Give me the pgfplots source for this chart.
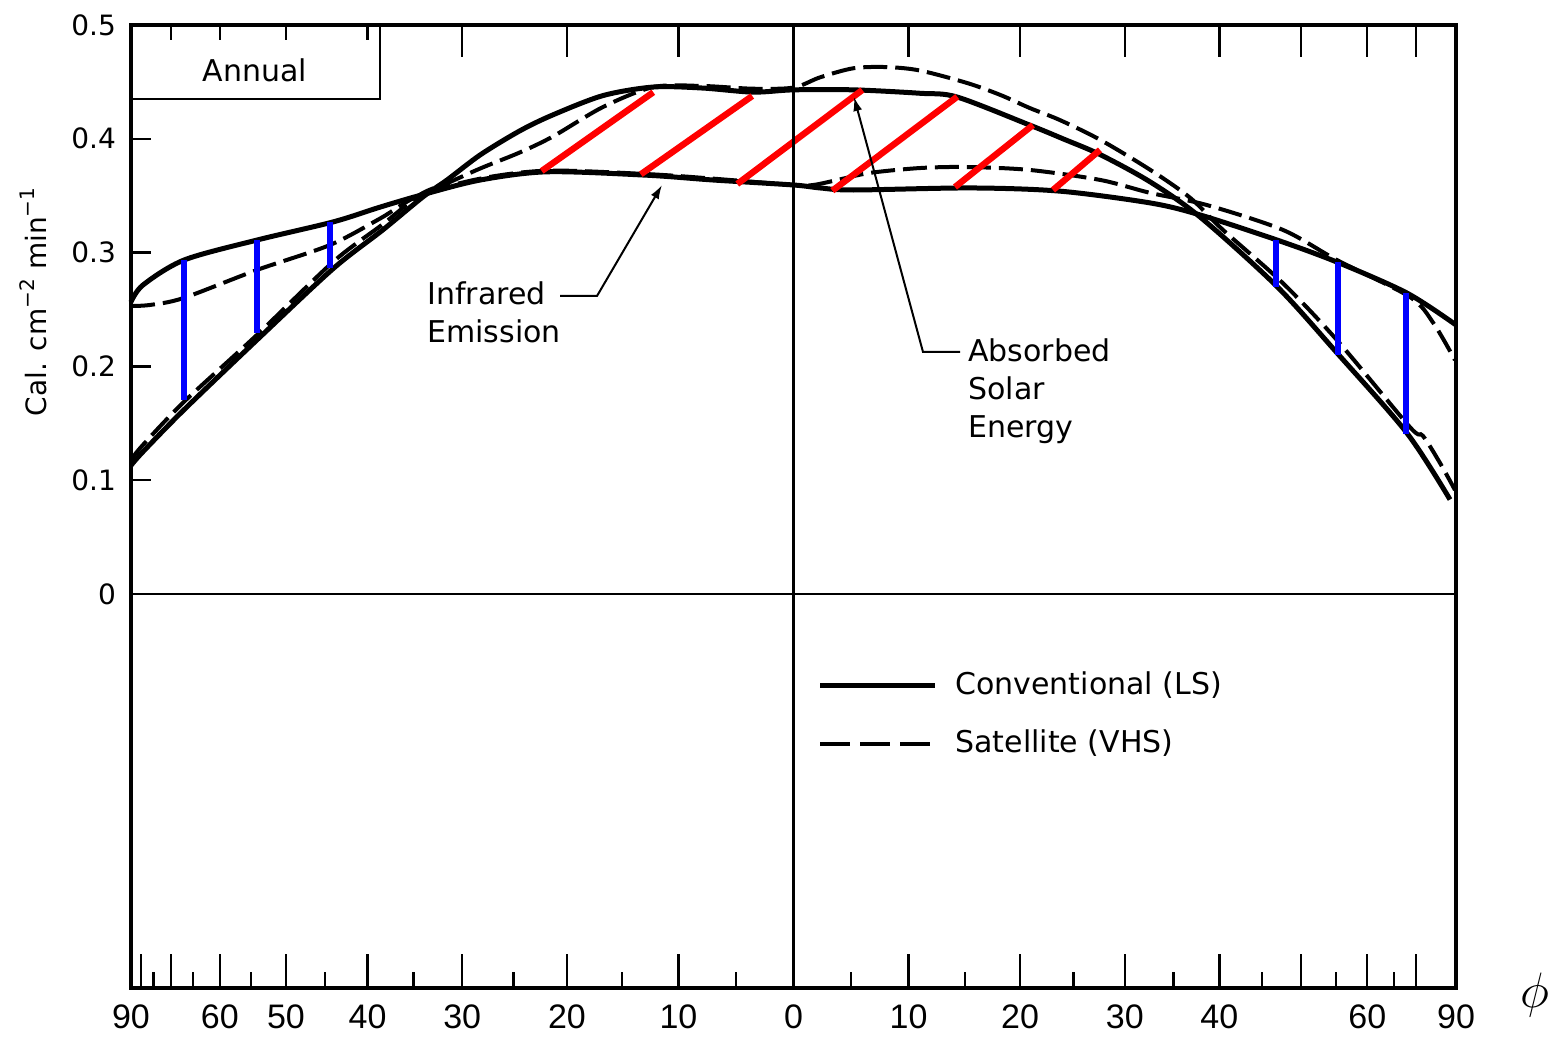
\documentclass[border=0pt]{standalone}
\usepackage{pgfplots}
\pgfplotsset{compat=1.18}
\usepackage{fontspec}
\usetikzlibrary{arrows.meta}
\setmainfont{DejaVu Sans}
\newfontfamily\numfont{Liberation Sans}

\begin{document}
\begin{tikzpicture}
\useasboundingbox (-65.5pt,-25pt) rectangle (710.5pt,494pt);
\begin{axis}[
  at={(0,0)}, anchor=south west,
  scale only axis, width=662.5pt, height=481.5pt,
  % latitude axis, spaced by sine of latitude
  x coord trafo/.code={\pgfmathparse{sin(#1)}},
  x coord inv trafo/.code={\pgfmathparse{asin(#1)}},
  xmin=-90, xmax=90, ymin=-0.34622, ymax=0.5,
  axis line style={line width=1.6pt},
  tick align=inside,
  xtick pos=left, ytick pos=left,
  xtick={-90,-80,-70,-60,-50,-40,-30,-20,-10,0,10,20,30,40,50,60,70,90},
  xticklabels={90,,,60,50,40,30,20,10,0,10,20,30,40,,60,,90},
  minor xtick={-75,-65,-55,-45,-35,-25,-15,-5,5,15,25,35,45,55,65},
  major tick length=17pt, minor tick length=8pt,
  every tick/.style={black, line width=1.2pt},
  ytick={0,0.1,0.2,0.3,0.4,0.5},
  yticklabels={0,0.1,0.2,0.3,0.4,0.5},
  ytick style={draw=none},
  xticklabel style={font=\numfont\fontsize{17}{20}\selectfont, yshift=-5pt},
  yticklabel style={font=\fontsize{14}{17}\selectfont, xshift=-4pt},
  clip=false,
]
% Absorbed solar energy, conventional
\addplot[line width=2.5pt, smooth] coordinates {
  (-90,0.113) (-79.1,0.125) (-66.9,0.162) (-53.6,0.226) (-44.0,0.286)
  (-38.3,0.320) (-34.0,0.349) (-31.5,0.364) (-28.2,0.386) (-24.4,0.407)
  (-21.3,0.421) (-16.7,0.438) (-12.2,0.4455) (-7.9,0.4446) (-3.5,0.441)
  (0,0.443) (5.2,0.443) (11.0,0.440) (14.3,0.4367) (20.9,0.412)
  (24.0,0.400) (27.6,0.386) (32.6,0.362) (37.9,0.331) (46.9,0.270)
  (55.1,0.212) (67.8,0.1415) (82.3,0.083)};
% Absorbed solar energy, satellite
\addplot[line width=2pt, dash pattern=on 12pt off 4pt, smooth] coordinates {
  (-90,0.118) (-79.1,0.131) (-66.9,0.169) (-54.1,0.2276) (-44.0,0.292)
  (-38.3,0.325) (-34.3,0.351) (-31.5,0.361) (-28.2,0.374) (-24.4,0.388)
  (-21.3,0.402) (-16.7,0.428) (-12.2,0.4455) (-7.9,0.4464) (-3.5,0.444)
  (0,0.445) (2.3,0.454) (5.2,0.462) (8.1,0.463) (11.0,0.460) (15.2,0.449)
  (18.2,0.4385) (20.9,0.427) (23.7,0.4165) (27.6,0.399) (32.6,0.3726)
  (36.8,0.348) (40.4,0.32) (47.6,0.2733) (55.1,0.2232) (68.5,0.1467)
  (71.8,0.139) (77.4,0.1151) (86.8,0.0914)};
% Infrared emission, conventional
\addplot[line width=2.5pt, smooth] coordinates {
  (-90,0.2566) (-79.1,0.2715) (-66.9,0.2935) (-54.1,0.311) (-44.0,0.327)
  (-38.6,0.340) (-34.0,0.351) (-28.2,0.3638) (-21.8,0.371) (-12.8,0.368)
  (-7.0,0.3638) (0,0.3594) (2.3,0.3568) (5.2,0.355) (15.5,0.3568)
  (23.7,0.354) (32.6,0.3436) (37.9,0.333) (46.9,0.311) (55.1,0.2917)
  (67.8,0.2645) (90,0.2364)};
% Infrared emission, satellite
\addplot[line width=2pt, dash pattern=on 12pt off 4pt, smooth] coordinates {
  (-90,0.2531) (-76.2,0.254) (-67.1,0.260) (-54.1,0.2847) (-44.4,0.3067)
  (-38.6,0.330) (-34.3,0.3506) (-28.2,0.365) (-21.8,0.372) (-12.8,0.369)
  (-7.0,0.365) (0,0.3594) (1.7,0.3594) (3.8,0.3638) (6.6,0.370)
  (11.0,0.3743) (15.2,0.3752) (20.9,0.3726) (27.6,0.3638) (32.6,0.3524)
  (38.6,0.3418) (47.6,0.320) (55.1,0.2935) (68.5,0.261) (75.0,0.238)
  (86.8,0.2056)};
% net deficit (blue) and surplus (red) markers
\addplot[blue, line width=3pt] coordinates {(-66.9,0.2935) (-66.9,0.1705)};
\addplot[blue, line width=3pt] coordinates {(-54.1,0.311) (-54.1,0.2293)};
\addplot[blue, line width=3pt] coordinates {(-44.4,0.327) (-44.4,0.2865)};
\addplot[blue, line width=3pt] coordinates {(46.8,0.311) (46.8,0.2698)};
\addplot[blue, line width=3pt] coordinates {(55.2,0.2917) (55.2,0.21)};
\addplot[blue, line width=3pt] coordinates {(67.6,0.2645) (67.6,0.1406)};
\addplot[red, line width=3.2pt] coordinates {(-22.34,0.3717) (-12.22,0.4409)};
\addplot[red, line width=3.2pt] coordinates {(-13.33,0.3688) (-3.57,0.4376)};
\addplot[red, line width=3.2pt] coordinates {(-4.87,0.3603) (5.96,0.4429)};
\addplot[red, line width=3.2pt] coordinates {(3.36,0.3544) (14.31,0.437)};
\addplot[red, line width=3.2pt] coordinates {(14.11,0.3576) (21.19,0.4121)};
\addplot[red, line width=3.2pt] coordinates {(23.06,0.355) (27.56,0.3902)};
\end{axis}

% decorations, in a frame where one unit is one pixel of the 1552 x 1038 page
\begin{scope}[x=0.5pt, y=-0.5pt, shift={(-65.5pt,494pt)}, line cap=butt,
    txt/.style={anchor=base west, inner sep=0pt, font=\fontsize{15}{18}\selectfont}]
  \foreach \xp in {462.25,566.9,678.5,908.5,1020.1,1124.75,1219.3,1301.0,1367.2,1416.1}
    \draw[line width=1.2pt] (\xp,25) -- (\xp,57);
  \foreach \xp in {170.9,219.8,286.0,367.6}
    \draw[line width=1.2pt] (\xp,25) -- (\xp,40);
  \foreach \yp in {480.2,366.4,252.6,138.8}
    \draw[line width=1.2pt] (131,\yp) -- (151,\yp);
  \draw[line width=1.3pt] (131,594) -- (1456,594);
  \draw[line width=1.3pt] (793.5,25) -- (793.5,988);
  \draw[line width=1.3pt] (380,25) -- (380,99) -- (131,99);
  \node[anchor=base, font=\fontsize{15}{18}\selectfont] at (255,82) {Annual};

  \node[txt] at (427,305) {Infrared};
  \node[txt] at (427,343) {Emission};
  \draw[line width=1pt, -{Latex[length=7pt,width=4.5pt]}] (560,296) -- (597,296) -- (662,185);

  \node[txt] at (968,362) {Absorbed};
  \node[txt] at (968,400) {Solar};
  \node[txt] at (968,438) {Energy};
  \draw[line width=1pt, -{Latex[length=7pt,width=4.5pt]}] (960,352) -- (923,352) -- (854,97);

  \draw[line width=2.5pt] (820,686) -- (935,686);
  \draw[line width=2pt, dash pattern=on 15pt off 5pt] (820,744) -- (935,744);
  \node[txt] at (955,695) {Conventional (LS)};
  \node[txt] at (955,753) {Satellite (VHS)};

  \node at (1535,995) {\fontsize{28}{30}\selectfont$\phi$};
  \node[rotate=90, font=\fontsize{14}{17}\selectfont] at (33,302)
    {Cal. cm\raisebox{0.8ex}{\fontsize{10}{11}\selectfont −2} min\raisebox{0.8ex}{\fontsize{10}{11}\selectfont −1}};
\end{scope}
\end{tikzpicture}
\end{document}
